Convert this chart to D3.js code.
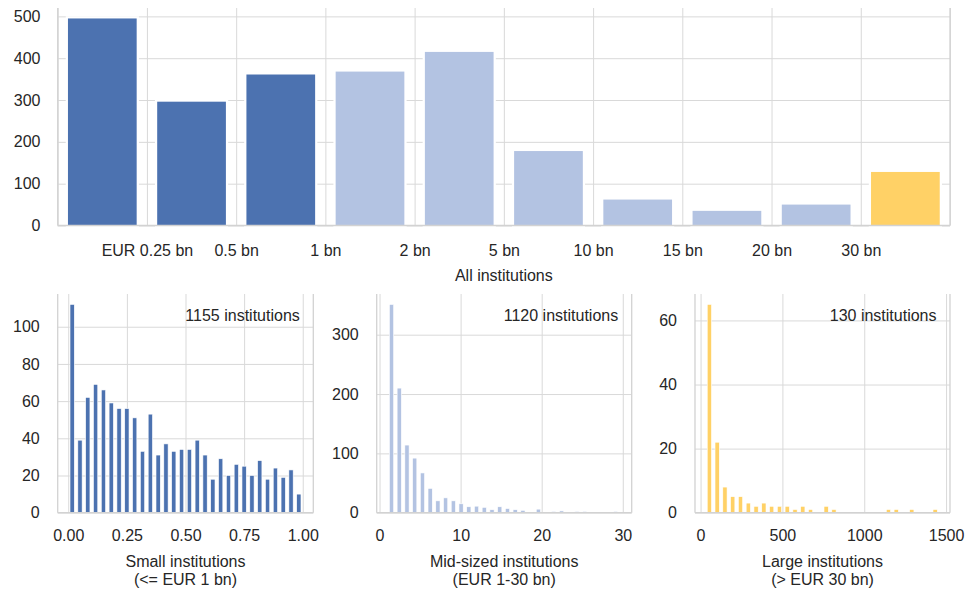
<!DOCTYPE html>
<html><head><meta charset="utf-8">
<script src="https://cdn.jsdelivr.net/npm/d3@7"></script>
<style>
body{margin:0;background:#fff}
svg{display:block}
text{font-family:"Liberation Sans",Arial,Helvetica,sans-serif;fill:#262626}
</style>
</head><body>
<svg id="c" width="978" height="589"></svg>
<script>
// ---------- data ----------
const sizeLabels = ["EUR 0.25 bn","0.5 bn","1 bn","2 bn","5 bn","10 bn","15 bn","20 bn","30 bn"];
const allCounts  = [495, 296, 361, 368, 415, 178, 62, 35, 50, 128];
const allGroups  = ["small","small","small","mid","mid","mid","mid","mid","mid","large"];
const allYTicks  = [0, 100, 200, 300, 400, 500];
const allTitle   = "All institutions";

const smallCounts = [112,39,62,69,66,59,56,56,51,33,53,31,37,33,34,34,39,31,18,29,20,26,25,20,28,18,24,19,23,10];
const midCounts   = [351,210,114,92,67,41,20,25,20,15,10,11,9,5,10,7,5,4,0,6,0,2,3,0,2,2,0,1,0,2];
const largeCounts = [65,22,8,5,5,3,2,3,2,2,2,1,2,1,0,2,1,0,0,0,0,0,0,1,1,0,1,0,0,1];
const smallBinRange = [0, 1];
const midBinRange   = [1.0, 29.6];
const largeBinRange = [30, 1457];
const smallXTicks = [0, 0.25, 0.5, 0.75, 1];
const midXTicks   = [0, 10, 20, 30];
const largeXTicks = [0, 500, 1000, 1500];
const smallYTicks = [0, 20, 40, 60, 80, 100];
const midYTicks   = [0, 100, 200, 300];
const largeYTicks = [0, 20, 40, 60];
const panelTitles = [["Small institutions","(<= EUR 1 bn)"],["Mid-sized institutions","(EUR 1-30 bn)"],["Large institutions","(> EUR 30 bn)"]];
const panelNotes  = ["1155 institutions","1120 institutions","130 institutions"];

// ---------- style ----------
const colors = {small:"#4c72b0", mid:"#b3c3e2", large:"#ffd166"};
const gridC = "#d9d9d9", spineC = "#d2d2d2", FS = 16;
const svg = d3.select("#c");

function styleAxis(g){
  g.select(".domain").remove();
  g.attr("font-size", FS).attr("font-family", null);
  g.selectAll("text").attr("fill", "#262626");
}
function spines(g, x0, x1, y0, y1){
  const s = g.append("g").attr("stroke", spineC).attr("stroke-width", 1.3).attr("fill","none");
  s.append("line").attr("x1",x0).attr("x2",x0).attr("y1",y0).attr("y2",y1);
  s.append("line").attr("x1",x1).attr("x2",x1).attr("y1",y0).attr("y2",y1);
  s.append("line").attr("x1",x0).attr("x2",x1).attr("y1",y1).attr("y2",y1);
}

// ---------- top chart ----------
{
  const L = 57.7, R = 950, T = 8, B = 225.5;
  const x = d3.scaleLinear().domain([0, allCounts.length]).range([L, R]);
  const y = d3.scaleLinear().domain([0, 520]).range([B, T]);
  const g = svg.append("g");
  // grid
  g.append("g").attr("transform",`translate(${L},0)`)
    .call(d3.axisLeft(y).tickValues(allYTicks).tickSize(-(R-L)).tickFormat(""))
    .call(a=>{a.select(".domain").remove(); a.selectAll("line").attr("stroke",gridC);});
  g.append("g").attr("transform",`translate(0,${B})`)
    .call(d3.axisBottom(x).tickValues(d3.range(0, allCounts.length+1)).tickSize(-(B-T)).tickFormat(""))
    .call(a=>{a.select(".domain").remove(); a.selectAll("line").attr("stroke",gridC);});
  // bars
  const bw = (x(1)-x(0))*0.77;
  g.append("g").selectAll("rect").data(allCounts).join("rect")
    .attr("x",(d,i)=>x(i+0.5)-bw/2).attr("width",bw)
    .attr("y",d=>y(d)).attr("height",d=>y(0)-y(d))
    .attr("fill",(d,i)=>colors[allGroups[i]])
    .attr("stroke","#fff").attr("stroke-width",4.5).attr("paint-order","stroke");
  spines(g, L, R, T, B);
  // axes text
  g.append("g").attr("transform",`translate(${L},0)`)
    .call(d3.axisLeft(y).tickValues(allYTicks).tickSize(0).tickPadding(17.2))
    .call(styleAxis);
  g.append("g").attr("transform",`translate(0,${B})`)
    .call(d3.axisBottom(x).tickValues(d3.range(1, sizeLabels.length+1)).tickSize(0).tickPadding(18.8)
          .tickFormat(d=>sizeLabels[d-1]))
    .call(styleAxis);
  g.append("text").attr("x",(L+R)/2).attr("y",280.5).attr("text-anchor","middle")
    .attr("font-size",FS).text(allTitle);
}

// ---------- bottom histograms ----------
const panels = [
  {L:57.7, R:313.3, dom:[-0.045,1.045], ymax:117.6, counts:smallCounts, bins:smallBinRange, xt:smallXTicks, yt:smallYTicks, fmt:d3.format(".2f"), col:colors.small},
  {L:376.7, R:631.7, dom:[-0.35,31.1], ymax:368.6, counts:midCounts, bins:midBinRange, xt:midXTicks, yt:midYTicks, fmt:d3.format("d"), col:colors.mid},
  {L:695, R:950, dom:[-34,1524], ymax:68.25, counts:largeCounts, bins:largeBinRange, xt:largeXTicks, yt:largeYTicks, fmt:d3.format("d"), col:colors.large}
];
panels.forEach((p, k)=>{
  const T = 294, B = 512.7;
  const x = d3.scaleLinear().domain(p.dom).range([p.L, p.R]);
  const y = d3.scaleLinear().domain([0, p.ymax]).range([B, T]);
  const g = svg.append("g");
  g.append("g").attr("transform",`translate(${p.L},0)`)
    .call(d3.axisLeft(y).tickValues(p.yt).tickSize(-(p.R-p.L)).tickFormat(""))
    .call(a=>{a.select(".domain").remove(); a.selectAll("line").attr("stroke",gridC);});
  g.append("g").attr("transform",`translate(0,${B})`)
    .call(d3.axisBottom(x).tickValues(p.xt).tickSize(-(B-T)).tickFormat(""))
    .call(a=>{a.select(".domain").remove(); a.selectAll("line").attr("stroke",gridC);});
  const n = p.counts.length, w = (p.bins[1]-p.bins[0])/n;
  const pw = (x(p.bins[0]+w)-x(p.bins[0]))*0.55;
  g.append("g").selectAll("rect").data(p.counts.map((v,i)=>({v,i})).filter(d=>d.v>0)).join("rect")
    .attr("x",d=>x(p.bins[0]+(d.i+0.5)*w)-pw/2).attr("width",pw)
    .attr("y",d=>y(d.v)).attr("height",d=>y(0)-y(d.v))
    .attr("fill",p.col).attr("stroke","#fff").attr("stroke-width",0.6);
  spines(g, p.L, p.R, T, B);
  g.append("g").attr("transform",`translate(${p.L},0)`)
    .call(d3.axisLeft(y).tickValues(p.yt).tickSize(0).tickPadding(18))
    .call(styleAxis);
  g.append("g").attr("transform",`translate(0,${B})`)
    .call(d3.axisBottom(x).tickValues(p.xt).tickSize(0).tickPadding(17.1).tickFormat(p.fmt))
    .call(styleAxis);
  const cx = (p.L+p.R)/2;
  g.append("text").attr("x",cx).attr("y",567.4).attr("text-anchor","middle").attr("font-size",FS).text(panelTitles[k][0]);
  g.append("text").attr("x",cx).attr("y",585).attr("text-anchor","middle").attr("font-size",FS).text(panelTitles[k][1]);
  g.append("text").attr("x",p.R-13.5).attr("y",321.2).attr("text-anchor","end").attr("font-size",FS).text(panelNotes[k]);
});
</script>
</body></html>
